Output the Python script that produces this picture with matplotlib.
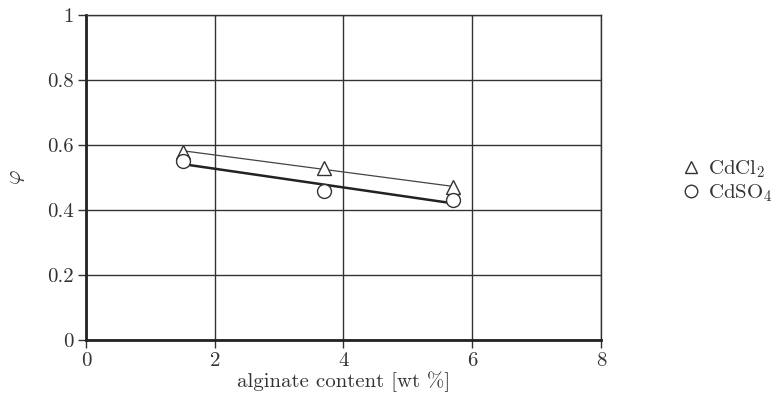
import matplotlib
matplotlib.use('Agg')
import matplotlib.pyplot as plt
import numpy as np

plt.rcParams['font.family'] = 'serif'
plt.rcParams['font.serif'] = ['cmr10', 'DejaVu Serif']
plt.rcParams['mathtext.fontset'] = 'cm'
plt.rcParams['axes.formatter.use_mathtext'] = True

# alginate content [wt %] and fraction phi
alginate = [1.5, 3.7, 5.7]
phi_cdcl2 = [0.58, 0.53, 0.47]
phi_cdso4 = [0.55, 0.46, 0.43]
xticks = [0, 2, 4, 6, 8]
yticks = [0, 0.2, 0.4, 0.6, 0.8, 1]
ytick_labels = ['0', '0.2', '0.4', '0.6', '0.8', '1']

fig = plt.figure(figsize=(7.76, 3.98), dpi=100)
ax = fig.add_axes([0.1108, 0.1457, 0.6637, 0.8166])

x = np.array(alginate)
# linear trend lines
k1 = np.polyfit(x, phi_cdcl2, 1)
k2 = np.polyfit(x, phi_cdso4, 1)
ax.plot(x[[0, -1]], np.polyval(k1, x[[0, -1]]), color='#444444', lw=0.9, zorder=3)
ax.plot(x[[0, -1]], np.polyval(k2, x[[0, -1]]), color='#222222', lw=1.8, zorder=3)

ax.plot(x, phi_cdcl2, ls='none', marker='^', ms=10, mfc='white', mec='#333333',
        mew=1.0, label=r'CdCl$_2$', zorder=4)
ax.plot(x, phi_cdso4, ls='none', marker='o', ms=10, mfc='white', mec='#333333',
        mew=1.0, label=r'CdSO$_4$', zorder=4)

ax.set_xlim(0, 8)
ax.set_ylim(0, 1)
ax.set_xticks(xticks)
ax.set_yticks(yticks)
ax.set_xticklabels([str(v) for v in xticks])
ax.set_yticklabels(ytick_labels)
ax.grid(True, color='#333333', lw=1.0)
ax.set_axisbelow(True)
for s in ['top', 'right']:
    ax.spines[s].set_color('#333333')
    ax.spines[s].set_linewidth(1.0)
for s in ['left', 'bottom']:
    ax.spines[s].set_color('#222222')
    ax.spines[s].set_linewidth(2.0)
ax.tick_params(direction='out', length=6, width=1, color='#333333',
               labelsize=15, labelcolor='#333333', pad=3)

ax.set_xlabel('alginate content [wt %]', fontsize=15, color='#333333', labelpad=1)
ax.set_ylabel(r'$\varphi$', fontsize=16, color='#333333', labelpad=14)

leg = fig.legend(loc='center left', bbox_to_anchor=(0.85, 0.545), frameon=False,
                 fontsize=15, handletextpad=0.2, labelspacing=0.1, markerscale=0.9,
                 handlelength=1.2)
for t in leg.get_texts():
    t.set_color('#333333')

fig.savefig('out.png', dpi=100)
